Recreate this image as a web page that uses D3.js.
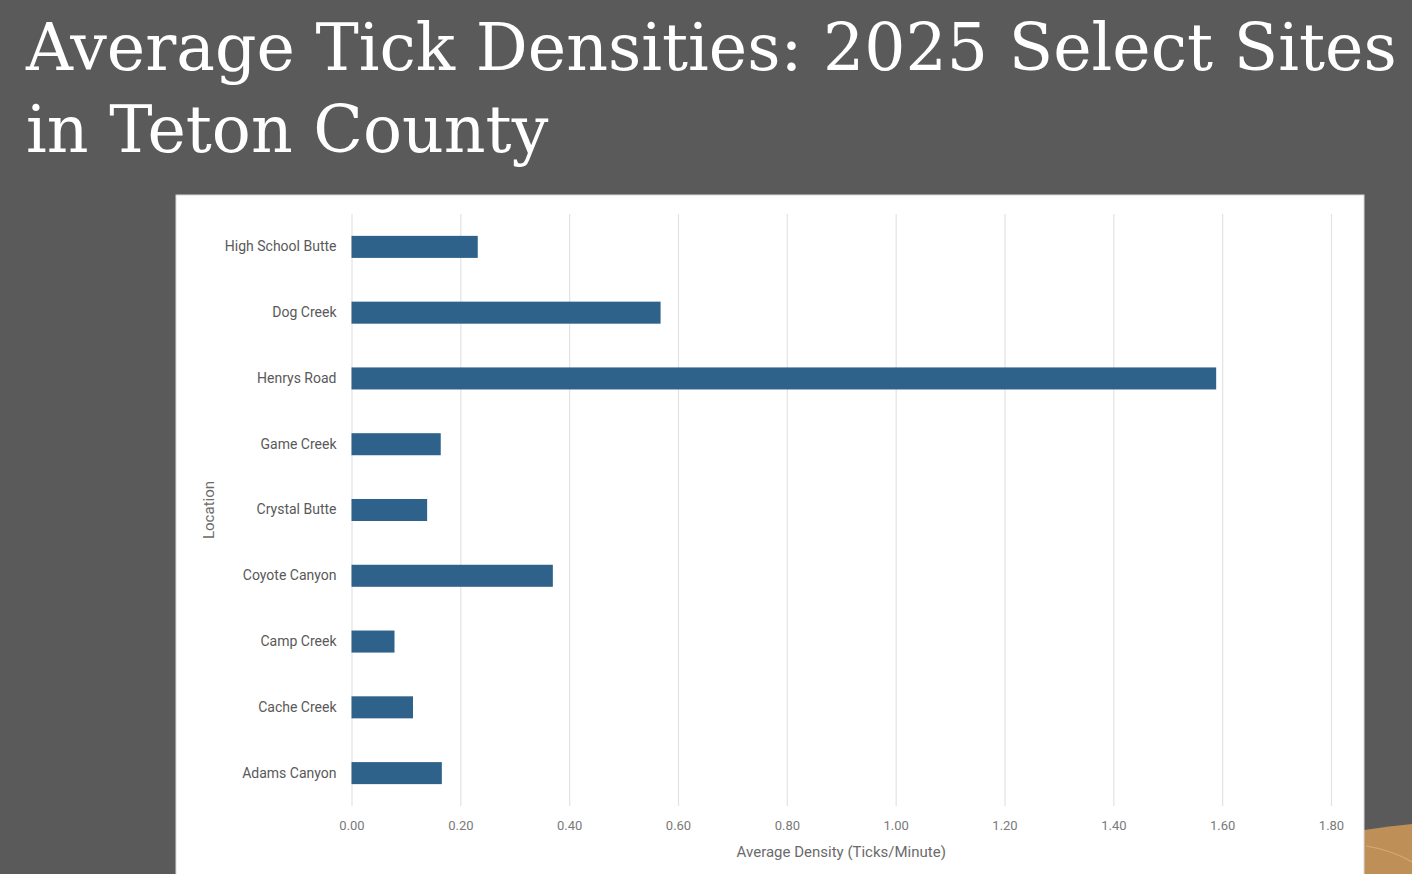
<!DOCTYPE html>
<html>
<head>
<meta charset="utf-8">
<script src="https://cdn.jsdelivr.net/npm/d3@7"></script>
<style>
  html, body { margin: 0; padding: 0; background: #5a5a5a; overflow: hidden; }
  svg { display: block; }
</style>
</head>
<body>
<svg id="slide"></svg>
<script>
// chart data
const locations = ["High School Butte", "Dog Creek", "Henrys Road", "Game Creek", "Crystal Butte",
                   "Coyote Canyon", "Camp Creek", "Cache Creek", "Adams Canyon"];
const densities = [0.232, 0.568, 1.589, 0.164, 0.139, 0.370, 0.079, 0.113, 0.166];
const xTicks = [0, 0.2, 0.4, 0.6, 0.8, 1.0, 1.2, 1.4, 1.6, 1.8];
const titleLines = ["Average Tick Densities: 2025 Select Sites", "in Teton County"];

const W = 1412, H = 874;
const panel = {x: 176, y: 195, w: 1188, h: 700};
const plot = {left: 351.5, right: 1331, top: 214, bottom: 806};

const svg = d3.select("#slide").attr("width", W).attr("height", H);

svg.append("rect").attr("width", W).attr("height", H).attr("fill", "#5a5a5a");

// tan decoration in the lower right corner of the slide
svg.append("path")
    .attr("d", `M1364,830 Q1390,826 1412,824 L1412,874 L1364,874 Z`)
    .attr("fill", "#bf8f58");
svg.append("path")
    .attr("d", `M1366,846 Q1392,850 1412,862`)
    .attr("fill", "none").attr("stroke", "#d4aa78").attr("stroke-width", 1.2);

// title
const title = svg.append("g").attr("fill", "#ffffff")
    .style("font-family", "'DejaVu Serif', 'Liberation Serif', serif");
const t1 = title.append("text").attr("x", 26).attr("y", 70).style("font-size", "64px").text(titleLines[0]);
const fit = 1371 / t1.node().getComputedTextLength();
const fs = 64 * fit;
t1.style("font-size", fs + "px");
title.append("text").attr("x", 26).attr("y", 152).style("font-size", fs + "px").text(titleLines[1]);

// white chart panel
svg.append("rect")
    .attr("x", panel.x).attr("y", panel.y)
    .attr("width", panel.w).attr("height", panel.h)
    .attr("fill", "#ffffff").attr("stroke", "#d9d9d9");

const x = d3.scaleLinear().domain([0, 1.8]).range([plot.left, plot.right]);
const y = d3.scaleBand().domain(locations).range([plot.top, plot.bottom]).paddingInner(0.665).paddingOuter(0.3325);

// gridlines
svg.append("g")
    .attr("transform", `translate(0,${plot.bottom})`)
    .call(d3.axisTop(x).tickValues(xTicks).tickSize(plot.bottom - plot.top).tickFormat(""))
    .call(g => g.select(".domain").remove())
    .call(g => g.selectAll("line").attr("stroke", "#e3e3e3").attr("stroke-width", 1.2));

// bars
svg.append("g")
    .attr("fill", "#2e628a")
    .selectAll("rect")
        .data(locations)
    .enter().append("rect")
        .attr("x", x(0))
        .attr("y", d => y(d))
        .attr("width", (d, i) => x(densities[i]) - x(0))
        .attr("height", y.bandwidth());

// x axis labels
svg.append("g")
    .attr("transform", `translate(0,${plot.bottom})`)
    .call(d3.axisBottom(x).tickValues(xTicks).tickSize(0).tickPadding(15).tickFormat(d3.format(".2f")))
    .call(g => g.select(".domain").remove())
    .call(g => g.selectAll("text")
        .attr("fill", "#7a7a7a")
        .style("font", "13px Roboto, sans-serif"));

// y axis labels
svg.append("g")
    .attr("transform", `translate(${plot.left},0)`)
    .call(d3.axisLeft(y).tickSize(0).tickPadding(15))
    .call(g => g.select(".domain").remove())
    .call(g => g.selectAll("text")
        .attr("fill", "#595959")
        .style("font", "14px Roboto, sans-serif"));

// axis titles
svg.append("text")
    .attr("x", (plot.left + plot.right) / 2).attr("y", 857)
    .attr("text-anchor", "middle")
    .attr("fill", "#6b6b6b")
    .style("font", "15px Roboto, sans-serif")
    .text("Average Density (Ticks/Minute)");

svg.append("text")
    .attr("transform", `translate(214,${(plot.top + plot.bottom) / 2}) rotate(-90)`)
    .attr("text-anchor", "middle")
    .attr("fill", "#6b6b6b")
    .style("font", "15px Roboto, sans-serif")
    .text("Location");
</script>
</body>
</html>
